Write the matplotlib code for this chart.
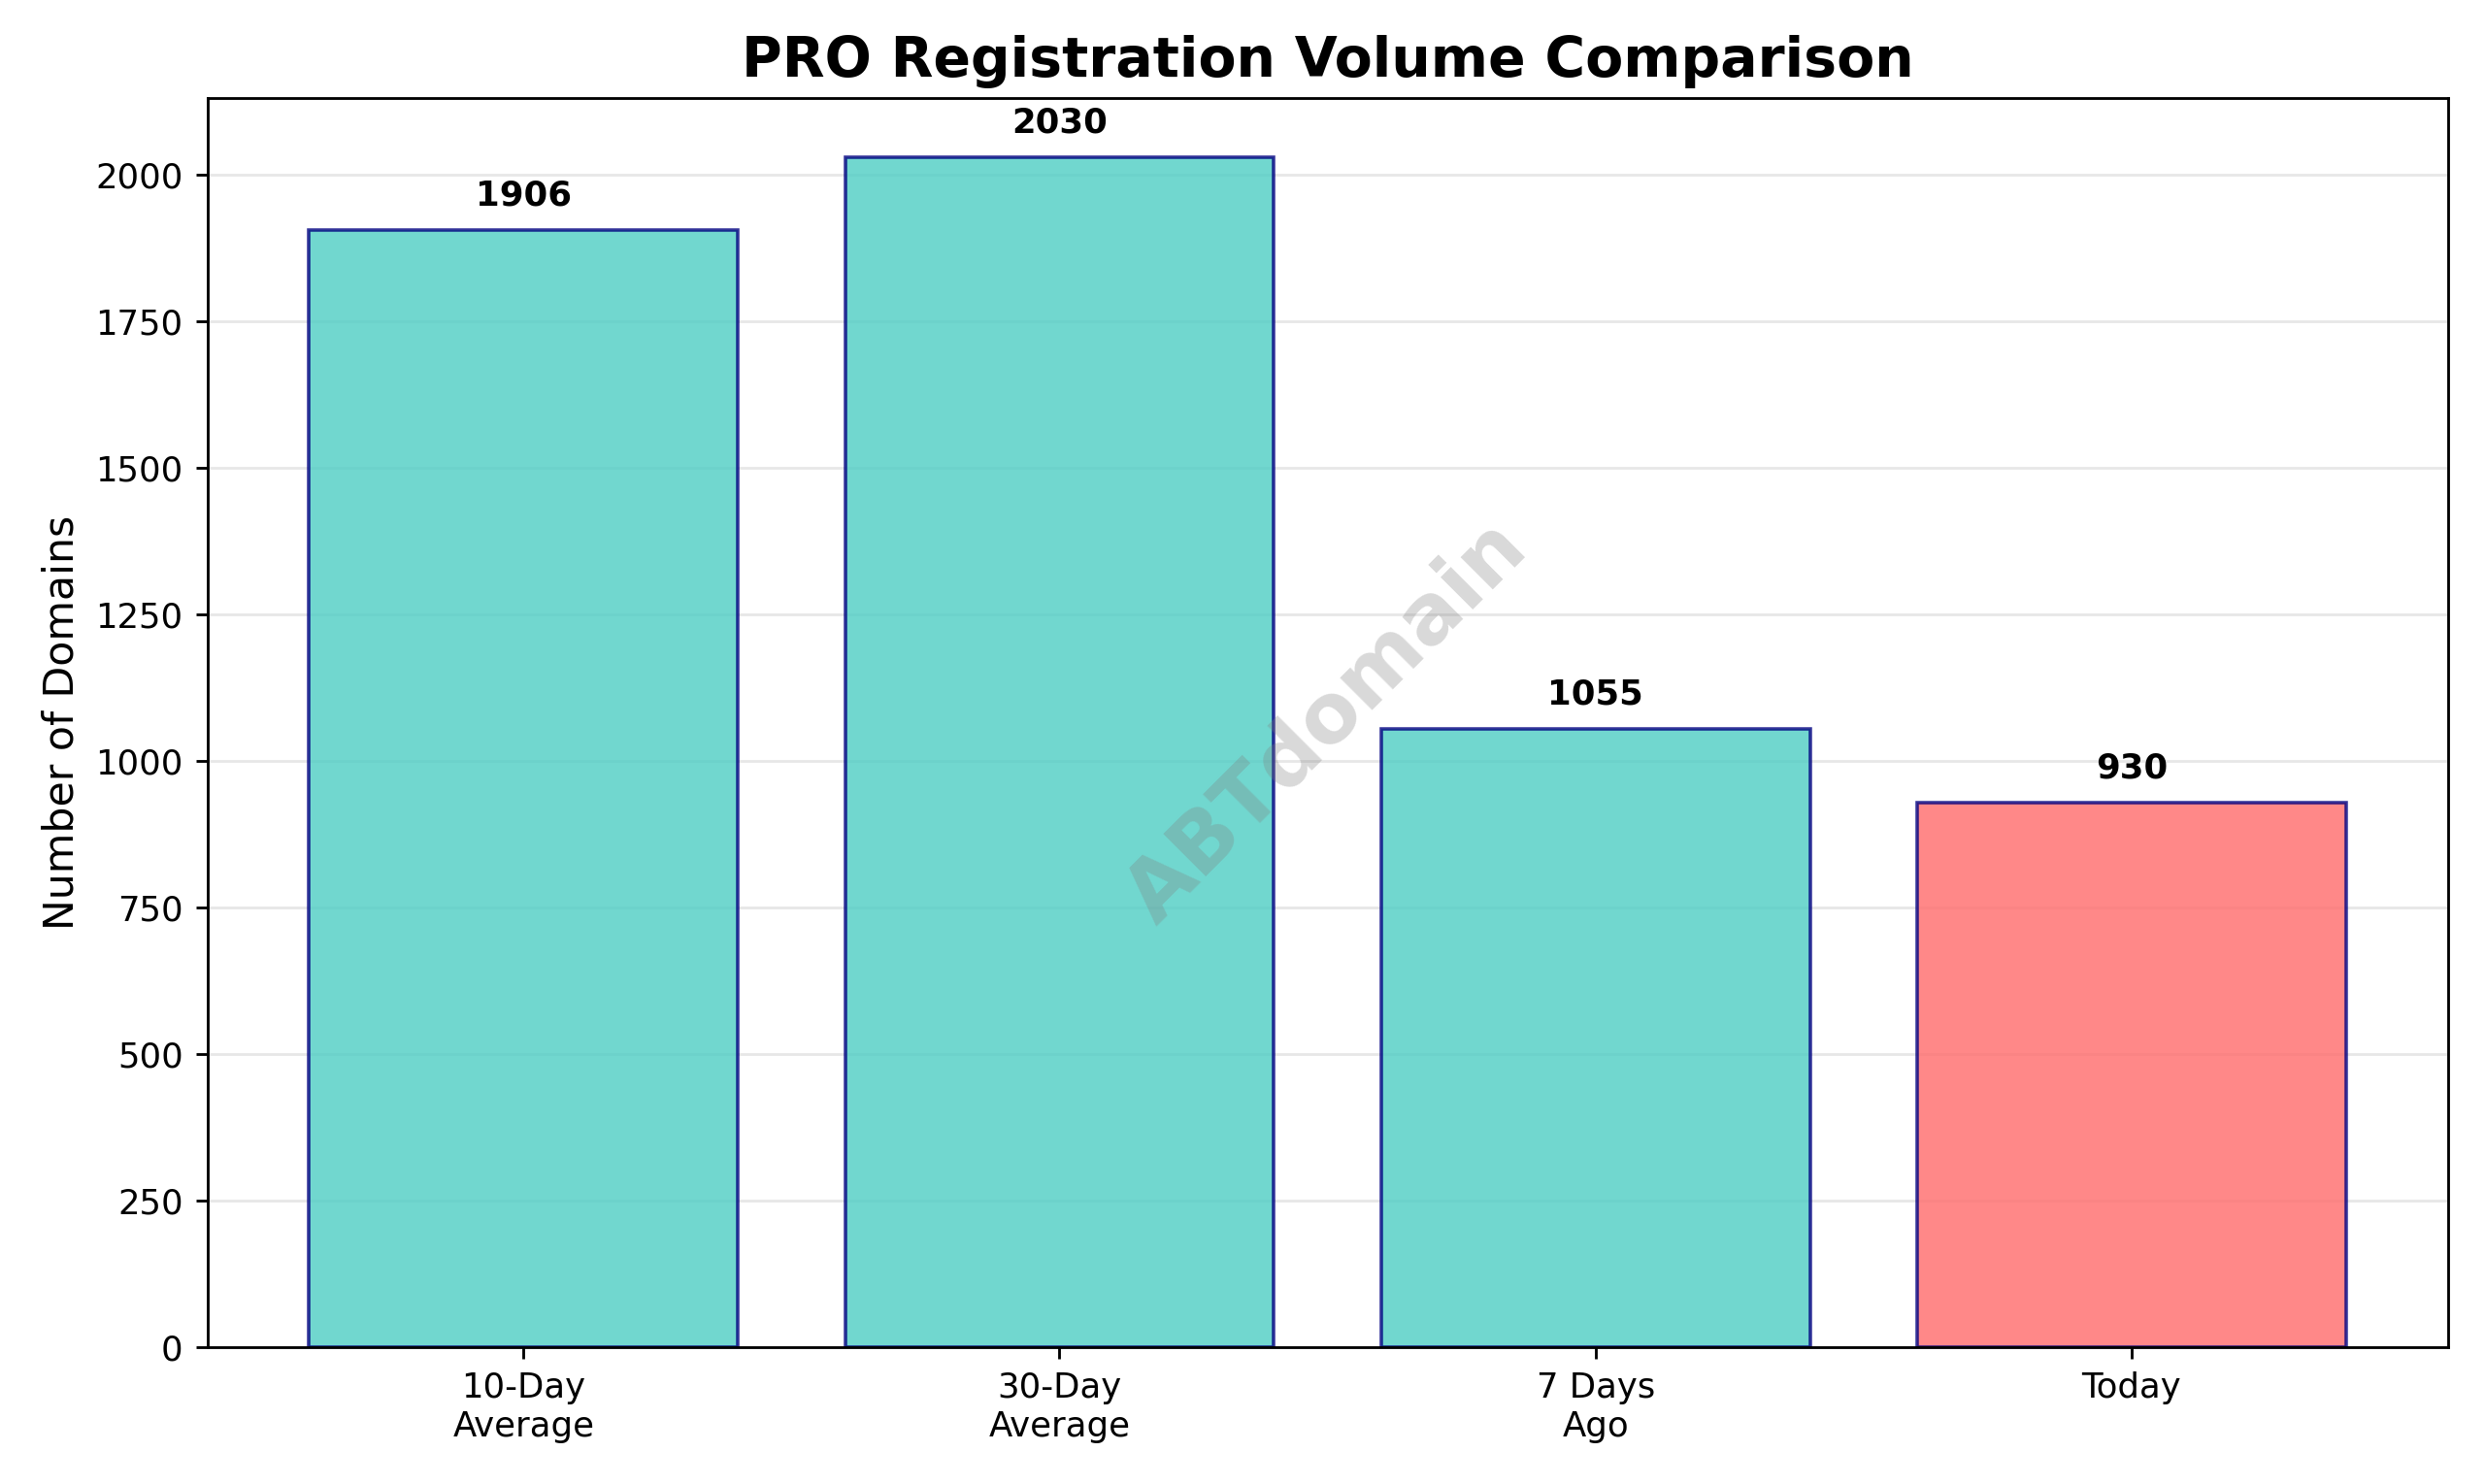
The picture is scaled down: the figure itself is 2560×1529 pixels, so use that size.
import matplotlib
matplotlib.use("Agg")
import matplotlib.pyplot as plt

categories = ["10-Day\nAverage", "30-Day\nAverage", "7 Days\nAgo", "Today"]
values = [1906, 2030, 1055, 930]
colors = ["#4ECDC4", "#4ECDC4", "#4ECDC4", "#FF6B6B"]

fig, ax = plt.subplots(figsize=(10, 5.973))
bars = ax.bar(categories, values, color=colors, alpha=0.8, edgecolor="navy", linewidth=1)

for b, v in zip(bars, values):
    ax.text(b.get_x() + b.get_width() / 2, v + max(values) * 0.015, str(v),
            ha="center", va="bottom", fontsize=10, fontweight="bold")

ax.set_ylim(0, max(values) * 1.05)
ax.set_title("PRO Registration Volume Comparison", fontsize=16, fontweight="bold")
ax.set_ylabel("Number of Domains", fontsize=12)
ax.grid(axis="y", alpha=0.3)
ax.set_axisbelow(True)
ax.text(0.5, 0.5, "ABTdomain", transform=ax.transAxes, fontsize=24, color="gray",
        alpha=0.3, rotation=45, ha="center", va="center", fontweight="bold")

fig.tight_layout()
fig.savefig("out.png", dpi=256)
